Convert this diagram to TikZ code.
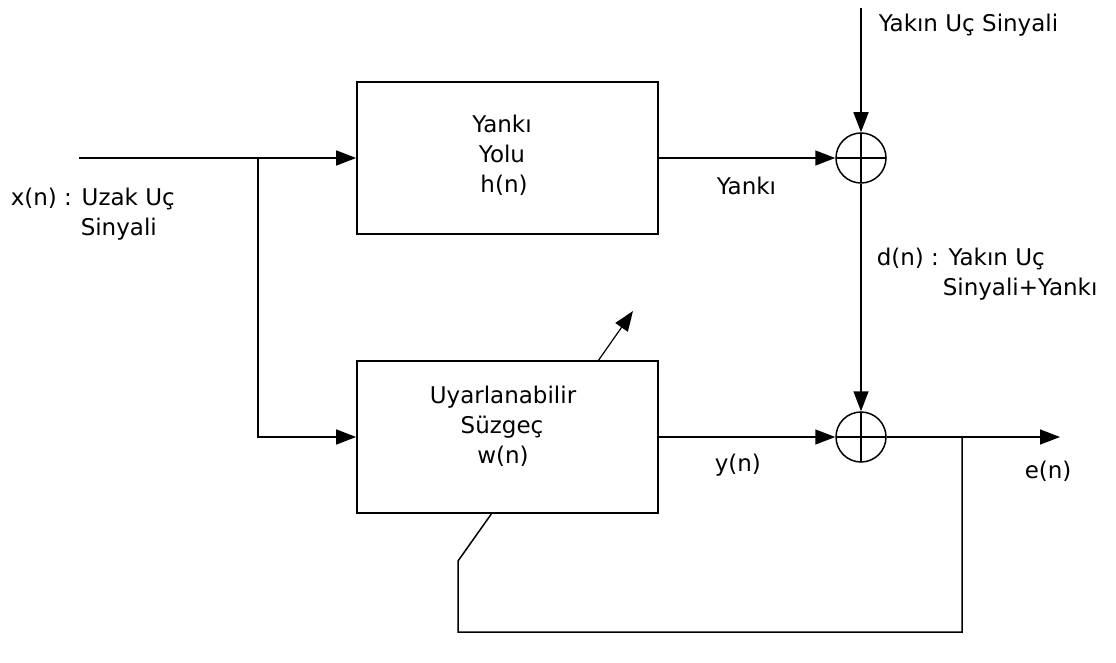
\documentclass[tikz,border=0pt]{standalone}
\usepackage{fontspec}
\setmainfont{DejaVu Sans}
\usetikzlibrary{arrows.meta}
\begin{document}
\begin{tikzpicture}[x=1pt,y=-1pt,
  line width=1.5pt,
  >={Triangle[length=20pt,width=15pt]},
  blk/.style={draw, line width=1.7pt, minimum width=301pt, minimum height=152pt, inner sep=0pt},
  sum/.style={draw, circle, minimum size=50pt, inner sep=0pt,
    path picture={\draw[line width=1.5pt] (path picture bounding box.north) -- (path picture bounding box.south)
      (path picture bounding box.west) -- (path picture bounding box.east);}},
  lbl/.style={inner sep=0pt, font=\fontsize{23}{30}\selectfont}
]
\useasboundingbox (0,0) rectangle (1116,663);
\fill[white] (0,0) rectangle (1116,663);

\node[blk] (box1) at (507.5,158) {};
\node[blk] (box2) at (507.5,437) {};
\node[sum] (s1) at (861,158) {};
\node[sum] (s2) at (861,437) {};

\coordinate (in) at (79,158);
\coordinate (br) at (258,158);
\coordinate (top) at (861,8);
\coordinate (out) at (1060,437);
\coordinate (fb) at (962,437);
\coordinate (fb1) at (962,632);
\coordinate (fb2) at (458,632);
\coordinate (fb3) at (458,561);
\coordinate (fb4) at (492,513);
\coordinate (ad1) at (598,361);
\coordinate (ad2) at (633,311);

\draw[->] (in) -- (box1.west);
\draw[->] (br) |- (box2.west);
\draw[->] (box1.east) -- (s1.west);
\draw[->] (top) -- (s1.north);
\draw[->] (s1.south) -- (s2.north);
\draw[->] (box2.east) -- (s2.west);
\draw[->] (s2.east) -- (out);
\draw (fb) -- (fb1) -- (fb2) -- (fb3) -- (fb4);
\draw[->, line width=1.2pt] (ad1) -- (ad2);

\node[lbl, anchor=base] (t1a) at (502,133) {Yankı};
\node[lbl, anchor=base] (t1b) at (502,163) {Yolu};
\node[lbl, anchor=base] (t1c) at (504,193) {h(n)};
\node[lbl, anchor=base] (t2a) at (503,403) {Uyarlanabilir};
\node[lbl, anchor=base] (t2b) at (502,433) {Süzgeç};
\node[lbl, anchor=base] (t2c) at (503,463) {w(n)};

\node[lbl, anchor=base west] (xa) at (10,206) {x(n) : Uzak Uç};
\node[lbl, anchor=base west] (xb) at (80,235) {Sinyali};
\node[lbl, anchor=base west] (near) at (878,32) {Yakın Uç Sinyali};
\node[lbl, anchor=base west] (echo) at (716,195) {Yankı};
\node[lbl, anchor=base west] (da) at (876,265) {d(n) : Yakın Uç};
\node[lbl, anchor=base west] (db) at (942,295) {Sinyali+Yankı};
\node[lbl, anchor=base west] (yn) at (714,471) {y(n)};
\node[lbl, anchor=base west] (en) at (1024,478) {e(n)};
\end{tikzpicture}
\end{document}
